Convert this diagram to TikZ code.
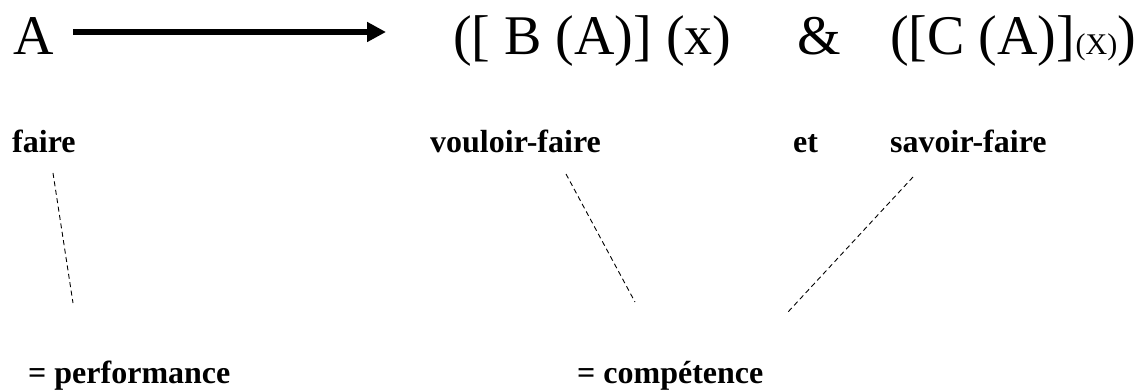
\documentclass[tikz,border=0pt]{standalone}
\usepackage{fontspec}
\setmainfont{Liberation Serif}
\usetikzlibrary{arrows.meta}
\tikzset{
  big/.style={anchor=base west, inner sep=0pt, font=\fontsize{56}{60}\selectfont},
  small/.style={anchor=base west, inner sep=0pt, font=\fontsize{30}{34}\selectfont},
  lab/.style={anchor=base west, inner sep=0pt, font=\fontsize{32}{36}\selectfont\bfseries},
  dline/.style={line width=0.9pt, dash pattern=on 5pt off 3.5pt},
  bigarrow/.style={line width=6pt, -{Triangle[length=19pt,width=19pt]}}
}
\begin{document}
\begin{tikzpicture}[x=1pt,y=-1pt]
\useasboundingbox (0,0) rectangle (1146,390);
% top row
\node[big] (A) at (13,55) {A};
\coordinate (arrS) at (73,32);
\coordinate (arrE) at (386,32);
\draw[bigarrow] (arrS) -- (arrE);
\node[big] (g1) at (453,55) {([ B (A)] (x)};
\node[big] (amp) at (797,55) {\&};
\node[big] (g2) at (890,55) {([C (A)]};
\node[small] (g2x) at (g2.base east) {(X)};
\node[big] (g2c) at (g2x.base east) {)};
% middle row
\node[lab] (faire) at (12,153) {faire};
\node[lab] (vouloir) at (430,153) {vouloir-faire};
\node[lab] (et) at (793,153) {et};
\node[lab] (savoir) at (890,153) {savoir-faire};
% bottom row
\node[lab] (perf) at (28,383) {= performance};
\node[lab] (comp) at (577,383) {= compétence};
% dashed connectors
\coordinate (f1) at (53,173);
\coordinate (f2) at (73,303);
\coordinate (v1) at (566,174);
\coordinate (v2) at (635,302);
\coordinate (s1) at (913,177);
\coordinate (s2) at (788,312);
\draw[dline] (f1) -- (f2);
\draw[dline] (v1) -- (v2);
\draw[dline] (s1) -- (s2);
\end{tikzpicture}
\end{document}
